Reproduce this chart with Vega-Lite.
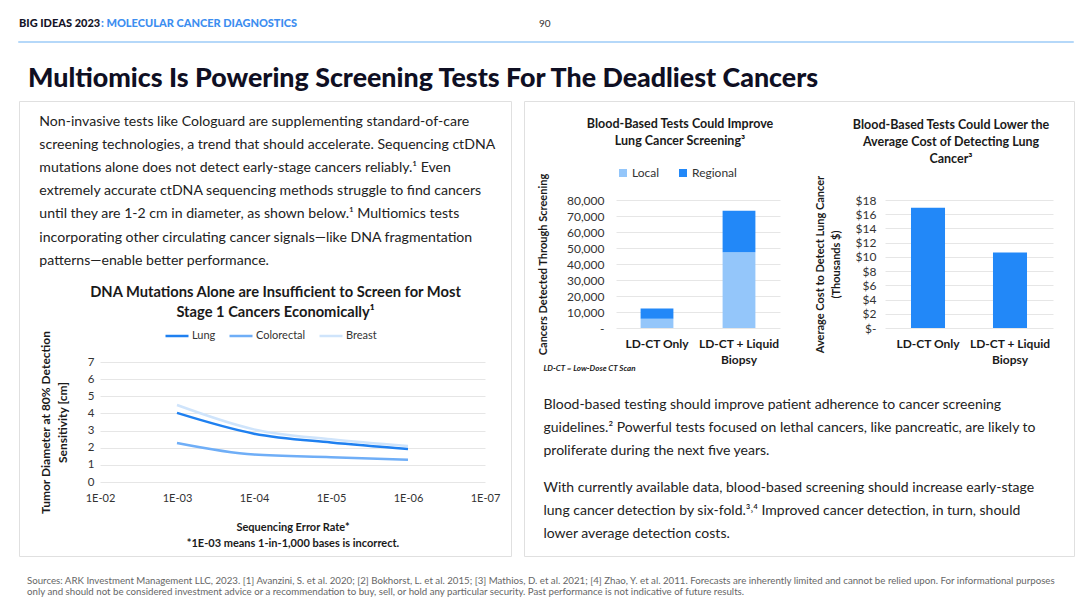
{
  "$schema": "https://vega.github.io/schema/vega-lite/v6.json",
  "background": "white",
  "padding": {"left": 18, "top": 18, "right": 0, "bottom": 0},
  "columns": 1,
  "align": "none",
  "spacing": 6,
  "config": {
    "font": "Lato",
    "view": {"stroke": null},
    "axis": {"labelFont": "Lato", "titleFont": "Lato", "labelColor": "#333333", "titleColor": "#1a1a1a", "gridColor": "#E6E6E6", "domain": false, "ticks": false},
    "title": {"font": "Lato", "subtitleFont": "Lato", "color": "#1a1a1a"},
    "legend": {"labelFont": "Lato", "labelColor": "#333333"}
  },
  "concat": [
    {
      "columns": 3, "align": "none", "spacing": 0,
      "concat": [
        {"width": 81, "height": 0.01, "data": {"values": []}, "mark": "point",
         "title": {"text": "BIG IDEAS 2023", "anchor": "start", "frame": "group", "fontSize": 11, "fontWeight": 900, "color": "#141428", "offset": 5}},
        {"width": 438, "height": 0.01, "data": {"values": []}, "mark": "point",
         "title": {"text": ":  MOLECULAR CANCER DIAGNOSTICS", "anchor": "start", "frame": "group", "fontSize": 11, "fontWeight": 900, "color": "#3D8EF0", "offset": 5}},
        {"width": 519, "height": 0.01, "data": {"values": []}, "mark": "point",
         "title": {"text": "90", "anchor": "start", "frame": "group", "fontSize": 10, "fontWeight": "normal", "color": "#333333", "offset": 5}}
      ]
    },
    {
      "width": 1054, "height": 0.01, "data": {"values": []}, "mark": "point",
      "view": {"stroke": "#9CCBF7", "strokeWidth": 1.5},
      "title": {"text": "Multiomics Is Powering Screening Tests For The Deadliest Cancers", "orient": "bottom", "anchor": "start", "frame": "group", "fontSize": 26.8, "fontWeight": 900, "color": "#0F0F23", "offset": 24, "dx": 9}
    },
    {
      "columns": 2, "align": "none", "spacing": 11,
      "concat": [
        {
          "columns": 1, "align": "none", "spacing": -443,
          "concat": [
            {"width": 492, "height": 455, "data": {"values": []}, "mark": "point", "view": {"stroke": "#E0E0E0", "strokeWidth": 1}},
            {
              "columns": 2, "align": "none", "spacing": 19,
              "concat": [
                {"width": 1, "height": 1, "data": {"values": []}, "mark": "point"},
                {
                  "columns": 1, "align": "none", "spacing": 0,
                  "resolve": {"scale": {"color": "independent"}, "legend": {"color": "independent"}},
                  "title": {"text": ["Non-invasive tests like Cologuard are supplementing standard-of-care", "screening technologies, a trend that should accelerate. Sequencing ctDNA", "mutations alone does not detect early-stage cancers reliably.¹ Even", "extremely accurate ctDNA sequencing methods struggle to find cancers", "until they are 1-2 cm in diameter, as shown below.¹ Multiomics tests", "incorporating other circulating cancer signals—like DNA fragmentation", "patterns—enable better performance."],
                    "anchor": "start", "frame": "bounds", "fontSize": 14.1, "fontWeight": "normal", "lineHeight": 23.15, "color": "#222222", "offset": 17},
                  "concat": [
                    {
                      "width": 385, "height": 120,
                      "data": {"values": [
                        {"cancer": "Lung", "error_rate": 0.001, "diameter": 4.03},
                        {"cancer": "Lung", "error_rate": 0.0001, "diameter": 2.82},
                        {"cancer": "Lung", "error_rate": 0.00001, "diameter": 2.3},
                        {"cancer": "Lung", "error_rate": 0.000001, "diameter": 1.93},
                        {"cancer": "Colorectal", "error_rate": 0.001, "diameter": 2.28},
                        {"cancer": "Colorectal", "error_rate": 0.0001, "diameter": 1.6},
                        {"cancer": "Colorectal", "error_rate": 0.00001, "diameter": 1.45},
                        {"cancer": "Colorectal", "error_rate": 0.000001, "diameter": 1.3},
                        {"cancer": "Breast", "error_rate": 0.001, "diameter": 4.49},
                        {"cancer": "Breast", "error_rate": 0.0001, "diameter": 3.07},
                        {"cancer": "Breast", "error_rate": 0.00001, "diameter": 2.49},
                        {"cancer": "Breast", "error_rate": 0.000001, "diameter": 2.1}
                      ]},
                      "title": {"text": ["DNA Mutations Alone are Insufficient to Screen for Most", "Stage 1 Cancers Economically¹"], "anchor": "middle", "frame": "group", "fontSize": 14.7, "fontWeight": "bold", "lineHeight": 20.5, "dx": -17, "offset": 3, "color": "#1a1a1a"},
                      "mark": {"type": "line", "interpolate": "monotone", "strokeWidth": 2.5},
                      "encoding": {
                        "x": {"field": "error_rate", "type": "quantitative",
                          "scale": {"type": "log", "domain": [0.0000001, 0.01], "reverse": true, "nice": false},
                          "axis": {"values": [0.01, 0.001, 0.0001, 0.00001, 0.000001, 0.0000001], "labelExpr": "'1E-0' + round(-log(datum.value) / LN10)", "labelFontSize": 11, "labelPadding": 10, "labelFlush": false, "labelOverlap": false, "grid": false,
                            "title": ["Sequencing Error Rate*", "*1E-03 means 1-in-1,000 bases is incorrect."], "titleFontSize": 11, "titleFontWeight": "bold", "titleLineHeight": 16, "titlePadding": 18}},
                        "y": {"field": "diameter", "type": "quantitative",
                          "scale": {"domain": [0, 7], "nice": false},
                          "axis": {"values": [0, 1, 2, 3, 4, 5, 6, 7], "labelFontSize": 11.5, "labelPadding": 6,
                            "title": ["Tumor Diameter at 80% Detection", "Sensitivity [cm]"], "titleFontSize": 12, "titleFontWeight": "bold", "titleLineHeight": 17, "titlePadding": 18}},
                        "color": {"field": "cancer", "type": "nominal",
                          "scale": {"domain": ["Lung", "Colorectal", "Breast"], "range": ["#1F80F0", "#6FAEF7", "#CFE4FB"]},
                          "legend": {"orient": "none", "legendX": 64, "legendY": -39, "direction": "horizontal", "title": null, "symbolType": "stroke", "symbolSize": 529, "symbolStrokeWidth": 2.5, "labelFontSize": 11, "columnPadding": 8, "labelOffset": 2}}
                      }
                    }
                  ]
                }
              ]
            }
          ]
        },
        {
          "columns": 1, "align": "none", "spacing": -440,
          "concat": [
            {"width": 550, "height": 455, "data": {"values": []}, "mark": "point", "view": {"stroke": "#E0E0E0", "strokeWidth": 1}},
            {
              "columns": 2, "align": "none", "spacing": 12,
              "concat": [
                {"width": 1, "height": 1, "data": {"values": []}, "mark": "point"},
                {
                  "columns": 2, "align": "none", "spacing": 34,
                  "resolve": {"scale": {"color": "independent"}, "legend": {"color": "independent"}},
                  "title": {"text": ["Blood-based testing should improve patient adherence to cancer screening", "guidelines.² Powerful tests focused on lethal cancers, like pancreatic, are likely to", "proliferate during the next five years."],
                    "subtitle": ["With currently available data, blood-based screening should increase early-stage", "lung cancer detection by six-fold.³˒⁴ Improved cancer detection, in turn, should", "lower average detection costs."],
                    "orient": "bottom", "anchor": "start", "frame": "bounds", "fontSize": 14, "fontWeight": "normal", "lineHeight": 23, "subtitleFontSize": 14, "subtitleLineHeight": 23, "subtitlePadding": 23, "color": "#222222", "subtitleColor": "#222222", "dx": 6, "offset": 26},
                  "concat": [
                    {
                      "width": 164, "height": 128,
                      "data": {"values": [
                        {"test": "LD-CT Only", "stage": "Local", "cancers": 5800},
                        {"test": "LD-CT Only", "stage": "Regional", "cancers": 6400},
                        {"test": "LD-CT + Liquid Biopsy", "stage": "Local", "cancers": 47400},
                        {"test": "LD-CT + Liquid Biopsy", "stage": "Regional", "cancers": 25900}
                      ]},
                      "title": {"text": ["Blood-Based Tests Could Improve", "Lung Cancer Screening³"], "anchor": "middle", "frame": "group", "fontSize": 12.5, "fontWeight": "bold", "lineHeight": 17, "dx": -18, "offset": 20, "color": "#1a1a1a"},
                      "mark": {"type": "bar"},
                      "encoding": {
                        "x": {"field": "test", "type": "nominal", "sort": ["LD-CT Only", "LD-CT + Liquid Biopsy"],
                          "scale": {"paddingInner": 0.6, "paddingOuter": 0.3},
                          "axis": {"labelAngle": 0, "labelExpr": "datum.value == 'LD-CT + Liquid Biopsy' ? ['LD-CT + Liquid', 'Biopsy'] : datum.value", "labelFontSize": 12, "labelFontWeight": "bold", "labelColor": "#1a1a1a", "labelPadding": 10, "labelLineHeight": 16,
                            "title": "LD-CT = Low-Dose CT Scan", "titleFontSize": 8, "titleFontStyle": "italic", "titleFontWeight": "bold", "titleAnchor": "start", "titleAlign": "left", "titleX": -73, "titleY": 40, "titleBaseline": "middle"}},
                        "y": {"field": "cancers", "type": "quantitative", "stack": "zero",
                          "scale": {"domain": [0, 80000], "nice": false},
                          "axis": {"values": [0, 10000, 20000, 30000, 40000, 50000, 60000, 70000, 80000], "labelExpr": "datum.value == 0 ? '-' : format(datum.value, ',')", "labelFontSize": 12, "labelPadding": 12,
                            "title": "Cancers Detected Through Screening", "titleFontSize": 11, "titleFontWeight": "bold", "titlePadding": 18}},
                        "color": {"field": "stage", "type": "nominal",
                          "scale": {"domain": ["Local", "Regional"], "range": ["#94C6FA", "#2288F8"]},
                          "legend": {"orient": "none", "legendX": 1, "legendY": -33, "direction": "horizontal", "title": null, "symbolType": "square", "symbolSize": 64, "labelFontSize": 12, "columnPadding": 17, "labelOffset": 3}},
                        "order": {"field": "stage", "sort": "ascending"}
                      }
                    },
                    {
                      "width": 168, "height": 128,
                      "data": {"values": [
                        {"test": "LD-CT Only", "cost": 16.9},
                        {"test": "LD-CT + Liquid Biopsy", "cost": 10.6}
                      ]},
                      "title": {"text": ["Blood-Based Tests Could Lower the", "Average Cost of Detecting Lung", "Cancer³"], "anchor": "middle", "frame": "group", "fontSize": 12.5, "fontWeight": "bold", "lineHeight": 17, "dx": -18, "offset": 10, "color": "#1a1a1a"},
                      "mark": {"type": "bar", "color": "#2288F8"},
                      "encoding": {
                        "x": {"field": "test", "type": "nominal", "sort": ["LD-CT Only", "LD-CT + Liquid Biopsy"],
                          "scale": {"paddingInner": 0.585, "paddingOuter": 0.317},
                          "axis": {"labelAngle": 0, "labelExpr": "datum.value == 'LD-CT + Liquid Biopsy' ? ['LD-CT + Liquid', 'Biopsy'] : datum.value", "labelFontSize": 12, "labelFontWeight": "bold", "labelColor": "#1a1a1a", "labelPadding": 10, "labelLineHeight": 16, "title": null}},
                        "y": {"field": "cost", "type": "quantitative",
                          "scale": {"domain": [0, 18], "nice": false},
                          "axis": {"values": [0, 2, 4, 6, 8, 10, 12, 14, 16, 18], "labelExpr": "datum.value == 0 ? '$-' : '$' + datum.value", "labelFontSize": 12, "labelPadding": 9,
                            "title": ["Average Cost to Detect Lung Cancer", "(Thousands $)"], "titleFontSize": 11, "titleFontWeight": "bold", "titleLineHeight": 16, "titlePadding": 14}}
                      }
                    }
                  ]
                }
              ]
            }
          ]
        }
      ]
    },
    {"width": 1, "height": 0.01, "data": {"values": []}, "mark": "point",
     "title": {"text": ["Sources: ARK Investment Management LLC, 2023. [1] Avanzini, S. et al. 2020; [2] Bokhorst, L. et al. 2015; [3] Mathios, D. et al. 2021; [4] Zhao, Y. et al. 2011. Forecasts are inherently limited and cannot be relied upon. For informational purposes", "only and should not be considered investment advice or a recommendation to buy, sell, or hold any particular security. Past performance is not indicative of future results."],
       "orient": "bottom", "anchor": "start", "frame": "group", "fontSize": 9.7, "fontWeight": "normal", "lineHeight": 11, "color": "#666666", "offset": 13, "dx": 8}}
  ]
}
